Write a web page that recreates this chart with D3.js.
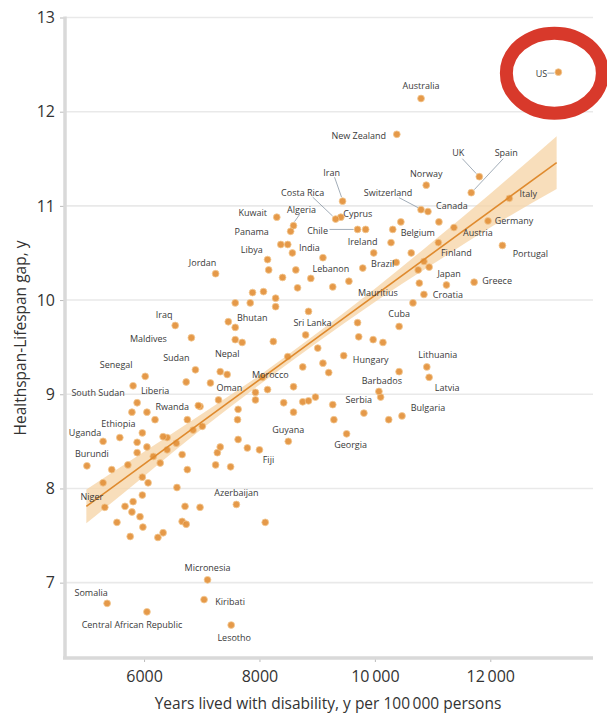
<!DOCTYPE html>
<html><head><meta charset="utf-8">
<script src="https://cdn.jsdelivr.net/npm/d3@7"></script>
<style>body{margin:0;background:#fff;} svg{display:block;font-family:"Open Sans","Noto Sans",sans-serif;}</style>
</head><body><svg id="c" width="607" height="713"></svg>
<script>
// ---- data ----
const countries = ["US","Australia","New Zealand","UK","Spain","Italy","Norway","Switzerland","Canada","Germany","Austria","Belgium","Portugal","Finland","Japan","Greece","Croatia","Cuba","Mauritius","Brazil","Ireland","Chile","Cyprus","Costa Rica","Iran","Kuwait","Algeria","Panama","Libya","India","Lebanon","Jordan","Bhutan","Sri Lanka","Iraq","Maldives","Sudan","Senegal","South Sudan","Liberia","Rwanda","Ethiopia","Uganda","Burundi","Niger","Somalia","Central African Republic","Micronesia","Kiribati","Lesotho","Azerbaijan","Fiji","Guyana","Georgia","Serbia","Barbados","Hungary","Lithuania","Latvia","Bulgaria","Morocco","Oman","Nepal"];
const countryYld = [13180,10800,10380,11810,11670,12330,10890,10800,10920,11960,11370,10310,12210,11100,10940,11720,10850,10420,9550,9790,9840,9700,9410,9320,9440,8300,8590,8540,8370,8570,8630,7240,7460,8850,6540,6820,6890,6020,5810,5880,6940,5970,5290,5010,5320,5360,6050,7100,7040,7510,7600,8000,8500,9510,9270,10070,9460,10900,10940,10470,8050,7150,7320];
const countryGap = [12.42,12.14,11.76,11.31,11.14,11.08,11.22,10.96,10.94,10.84,10.77,10.75,10.58,10.61,10.35,10.19,10.06,9.72,10.20,10.34,10.75,10.75,10.88,10.86,11.05,10.88,10.79,10.73,10.59,10.50,10.32,10.28,9.77,9.88,9.73,9.60,9.26,9.19,9.09,8.91,8.88,8.59,8.50,8.24,7.80,6.78,6.69,7.03,6.82,6.55,7.83,8.41,8.50,8.58,8.89,9.03,9.41,9.29,9.18,8.77,9.18,9.12,9.24];
// unlabeled countries
const otherYld = [8490,8140,8160,8400,8890,8660,9100,9270,9980,10280,10450,11110,10630,10750,10770,11240,10660,10370,10850,7880,8070,8280,7580,7840,8280,7580,7580,7700,8240,8800,9700,9720,9970,10140,9010,8490,8750,9100,9200,10420,7440,6730,8140,8590,8970,8750,8420,8590,7630,7930,7290,7620,6970,6750,7010,6190,6400,5580,5880,7630,7790,7270,5790,6050,6330,6850,7930,8850,9290,9810,10240,10100,7500,5440,5720,5880,6050,6160,6280,6400,6660,6750,7240,7320,5290,5970,6070,6570,5670,5810,5970,5790,5930,5980,5530,5760,6240,6330,6660,6730,6710,6970,8100,6560];
const otherGap = [10.59,10.43,10.32,10.24,10.23,10.13,10.45,10.14,10.50,10.61,10.83,10.83,10.50,10.32,10.18,10.16,9.97,10.40,10.41,10.08,10.09,10.02,9.97,9.97,9.93,9.71,9.58,9.55,9.56,9.63,9.76,9.61,9.58,9.55,9.49,9.40,9.29,9.33,9.23,9.24,9.21,9.13,9.05,9.08,8.97,8.92,8.91,8.81,8.84,8.94,8.94,8.73,8.87,8.73,8.66,8.73,8.54,8.54,8.49,8.52,8.43,8.38,8.81,8.81,8.55,8.62,9.02,8.93,8.73,8.80,8.73,8.97,8.23,8.20,8.25,8.38,8.44,8.34,8.27,8.41,8.36,8.20,8.25,8.44,8.06,8.12,8.06,8.01,7.81,7.86,7.93,7.75,7.70,7.59,7.64,7.49,7.48,7.53,7.65,7.62,7.81,7.80,7.64,8.48];
const xTicks = [6000,8000,10000,12000];
const xTickLabels = ["6000","8000","10\u2009000","12\u2009000"];
const yTicks = [7,8,9,10,11,12,13];
const fitX = [5000,13150];
const fitY = [7.81,11.46];
const bandX = [5000,6000,7000,8000,9000,10000,11000,12000,13150];
const bandLow = [7.63,8.13,8.63,9.10,9.55,9.98,10.38,10.77,11.18];
const bandHigh = [7.99,8.39,8.79,9.20,9.65,10.12,10.62,11.13,11.74];

// ---- label layout (pixel offsets from dot) ----
const labelLayout = {
 "US":[-17,1,[-11,1,-4,1]],"Australia":[0,-13],"New Zealand":[-38,1],
 "UK":[-21,-24,[-17,-18,-3,-3]],"Spain":[35,-40,[32,-34,3,-3]],"Italy":[19,-5],
 "Norway":[0,-12],"Switzerland":[-33,-17,[-22,-12,-3,-2]],"Canada":[24,-6],
 "Germany":[26,0],"Austria":[24,5],"Belgium":[25,3],"Portugal":[28,8],"Finland":[18,10],
 "Japan":[20,6],"Greece":[23,-2],"Croatia":[24,0],"Cuba":[0,-13],"Mauritius":[29,11],
 "Brazil":[20,-5],"Ireland":[-3,12],"Chile":[-40,1,[-28,0,-4,0]],"Cyprus":[17,-4],
 "Costa Rica":[-33,-27,[-23,-22,-3,-3]],"Iran":[-11,-29,[-8,-24,-1,-4]],"Kuwait":[-24,-5],
 "Algeria":[8,-16,[6,-11,1,-4]],"Panama":[-39,0],"Libya":[-29,5],"India":[17,-5],
 "Lebanon":[35,-1],"Jordan":[-13,-11],"Bhutan":[24,-4],"Sri Lanka":[4,11],"Iraq":[-11,-11],
 "Maldives":[-43,1],"Sudan":[-19,-12],"Senegal":[-29,-12],"South Sudan":[-35,7],
 "Liberia":[18,-12],"Rwanda":[-26,1],"Ethiopia":[-24,-9],"Uganda":[-18,-9],"Burundi":[5,-12],
 "Niger":[-13,-11],"Somalia":[-16,-11],"Central African Republic":[-15,13],"Micronesia":[0,-12],
 "Kiribati":[26,2],"Lesotho":[3,12],"Azerbaijan":[0,-12],"Fiji":[9,10],"Guyana":[0,-12],
 "Georgia":[4,11],"Serbia":[26,-5],"Barbados":[3,-11],"Hungary":[27,4],"Lithuania":[11,-12],
 "Latvia":[18,10],"Bulgaria":[26,-8],"Morocco":[8,-3],"Oman":[19,5],"Nepal":[7,-18]
};

const svg = d3.select("#c");
const x = d3.scaleLinear().domain([4630,13780]).range([65,593]);
const y = d3.scaleLinear().domain([6.2,13]).range([658,17.5]);

// gridlines
svg.append("g").selectAll("line").data(yTicks).join("line")
  .attr("x1",65).attr("x2",593).attr("y1",d=>y(d)).attr("y2",d=>y(d))
  .attr("stroke","#e9e9e9").attr("stroke-width",1.6);

// axes
const yAxis = svg.append("g").attr("transform","translate(65,0)")
  .call(d3.axisLeft(y).tickValues(yTicks).tickSize(5).tickPadding(5).tickFormat(d3.format("d")));
const xAxis = svg.append("g").attr("transform","translate(0,658)")
  .call(d3.axisBottom(x).tickValues(xTicks).tickSize(4).tickPadding(9).tickFormat((d,i)=>xTickLabels[i]));
[yAxis,xAxis].forEach(g=>{
  g.select(".domain").remove();
  g.selectAll(".tick line").attr("stroke","#bbb").attr("stroke-width",1);
  g.selectAll(".tick text").attr("fill","#333").style("font-size","16px").style("font-family","'Open Sans',sans-serif");
});
svg.append("line").attr("x1",65).attr("x2",65).attr("y1",y(13)-1).attr("y2",658)
  .attr("stroke","#d9d9d9").attr("stroke-width",3.5);
svg.append("line").attr("x1",63).attr("x2",593).attr("y1",658).attr("y2",658)
  .attr("stroke","#d9d9d9").attr("stroke-width",3.5);

// CI band
const bandData = bandX.map((v,i)=>({x:v,lo:bandLow[i],hi:bandHigh[i]}));
svg.append("path").datum(bandData)
  .attr("d",d3.area().x(d=>x(d.x)).y0(d=>y(d.lo)).y1(d=>y(d.hi)).curve(d3.curveMonotoneX))
  .attr("fill","#f6d3a4").attr("opacity",0.75);

// dots
const others = otherYld.map((v,i)=>({x:v,y:otherGap[i]}));
const named = countries.map((n,i)=>({name:n,x:countryYld[i],y:countryGap[i]}));
const dotG = svg.append("g");
dotG.selectAll("circle.o").data(others.concat(named)).join("circle")
  .attr("cx",d=>x(d.x)).attr("cy",d=>y(d.y)).attr("r",3.4)
  .attr("fill","#e3913a").attr("stroke","#f3c58c").attr("stroke-width",0.8).attr("opacity",0.92);

// fit line
svg.append("line").attr("x1",x(fitX[0])).attr("y1",y(fitY[0])).attr("x2",x(fitX[1])).attr("y2",y(fitY[1]))
  .attr("stroke","#df8a2e").attr("stroke-width",1.6);

// labels and leaders
const lab = svg.append("g");
named.forEach(d=>{
  const L = labelLayout[d.name]; if(!L) return;
  const px = x(d.x), py = y(d.y);
  if(L[2]){
    lab.append("line").attr("x1",px+L[2][0]).attr("y1",py+L[2][1]).attr("x2",px+L[2][2]).attr("y2",py+L[2][3])
      .attr("stroke","#7a8a99").attr("stroke-width",0.7);
  }
  lab.append("text").attr("x",px+L[0]).attr("y",py+L[1]).attr("text-anchor","middle")
    .attr("dominant-baseline","central").attr("fill","#3a3a3a").style("font-size","9px").text(d.name);
});

// highlight ellipse around US
const us = named[0];
svg.append("ellipse").attr("cx",x(us.x)-4).attr("cy",y(us.y)+1).attr("rx",48).attr("ry",40)
  .attr("fill","none").attr("stroke","#d8392b").attr("stroke-width",13);

// axis titles
svg.append("text").attr("x",328).attr("y",703).attr("text-anchor","middle").attr("dominant-baseline","central")
  .attr("fill","#333").style("font-size","15.5px").text("Years lived with disability, y per 100\u2009000 persons");
svg.append("text").attr("transform","translate(20,338) rotate(-90)").attr("text-anchor","middle")
  .attr("dominant-baseline","central").attr("fill","#333").style("font-size","15.5px").text("Healthspan-Lifespan gap, y");
</script></body></html>
